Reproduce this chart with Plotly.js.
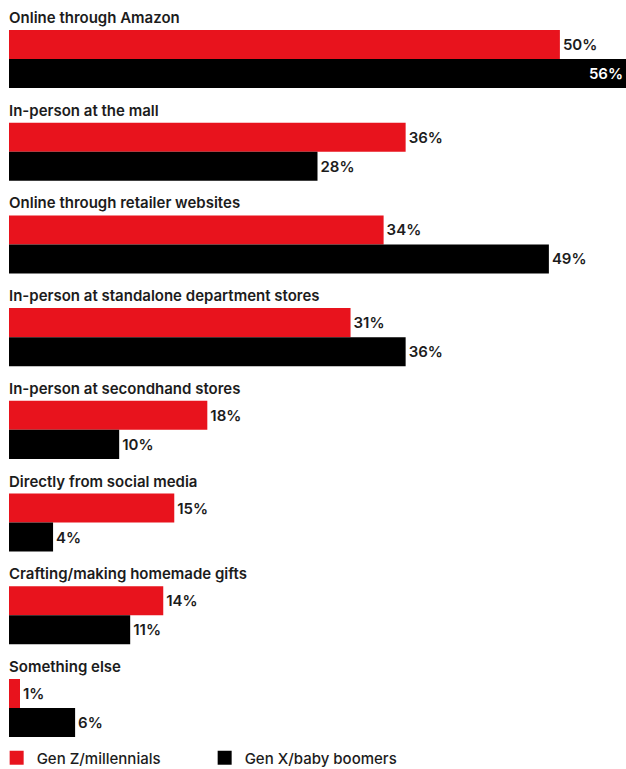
<!DOCTYPE html>
<html>
<head>
<meta charset="utf-8">
<script src="https://cdn.plot.ly/plotly-3.0.1.min.js"></script>
<style>html,body{margin:0;padding:0;background:#fff;}#chart{width:626px;height:769px;}</style>
</head>
<body>
<div id="chart"></div>
<script>
const categories = [
  "Online through Amazon",
  "In-person at the mall",
  "Online through retailer websites",
  "In-person at standalone department stores",
  "In-person at secondhand stores",
  "Directly from social media",
  "Crafting/making homemade gifts",
  "Something else"
];
const genZ = [50, 36, 34, 31, 18, 15, 14, 1];
const genX = [56, 28, 49, 36, 10, 4, 11, 6];
const seriesNames = ["Gen Z/millennials", "Gen X/baby boomers"];

const RED = "#e8131d";
const BLACK = "#000000";
const TEXT = "#1c1c1c";
const FONT = "Inter, 'Open Sans', sans-serif";
const XMAX = 56;

function labels(vals){ return vals.map(v => v + "%"); }
function positions(vals){ return vals.map(v => v >= XMAX ? "inside" : "outside"); }

const common = {
  type: "bar",
  orientation: "h",
  y: categories,
  textfont: {family: FONT, size: 15, color: TEXT, weight: 600},
  outsidetextfont: {family: FONT, size: 15, color: TEXT, weight: 600},
  insidetextfont: {family: FONT, size: 15, color: "#ffffff", weight: 600},
  insidetextanchor: "end",
  constraintext: "none",
  cliponaxis: false,
  showlegend: false,
  hoverinfo: "none"
};

const traces = [
  Object.assign({}, common, {
    name: seriesNames[0], x: genZ, text: labels(genZ), textposition: positions(genZ),
    marker: {color: RED, line: {width: 0}}
  }),
  Object.assign({}, common, {
    name: seriesNames[1], x: genX, text: labels(genX), textposition: positions(genX),
    marker: {color: BLACK, line: {width: 0}}
  }),
  {type: "scatter", mode: "markers", x: [null], y: [null], name: seriesNames[0],
   marker: {symbol: "square", size: 14, color: RED}, showlegend: true, hoverinfo: "none"},
  {type: "scatter", mode: "markers", x: [null], y: [null], name: seriesNames[1],
   marker: {symbol: "square", size: 14, color: BLACK}, showlegend: true, hoverinfo: "none"}
];

const annotations = categories.map(c => ({
  x: 0, xref: "x", xanchor: "left", xshift: -2,
  y: c, yref: "y", yanchor: "bottom", yshift: 30,
  text: c, showarrow: false,
  font: {family: FONT, size: 15, color: TEXT, weight: 600}
}));

const layout = {
  width: 626, height: 769,
  margin: {l: 9, r: 0, t: 13, b: 20, autoexpand: false},
  paper_bgcolor: "#ffffff", plot_bgcolor: "#ffffff",
  barmode: "group", bargap: 0.374, bargroupgap: 0,
  xaxis: {range: [0, XMAX], visible: false, fixedrange: true},
  yaxis: {type: "category", range: [7.442, -0.496], visible: false, fixedrange: true},
  showlegend: true,
  legend: {
    orientation: "h", x: -0.02, xanchor: "left",
    y: -0.0122, yanchor: "middle",
    font: {family: FONT, size: 15, color: TEXT, weight: 500},
    entrywidth: 163, entrywidthmode: "pixels", itemwidth: 30,
    bgcolor: "rgba(0,0,0,0)", borderwidth: 0, traceorder: "normal"
  },
  annotations: annotations
};

Plotly.newPlot("chart", traces, layout, {displayModeBar: false, staticPlot: true});
</script>
</body>
</html>
